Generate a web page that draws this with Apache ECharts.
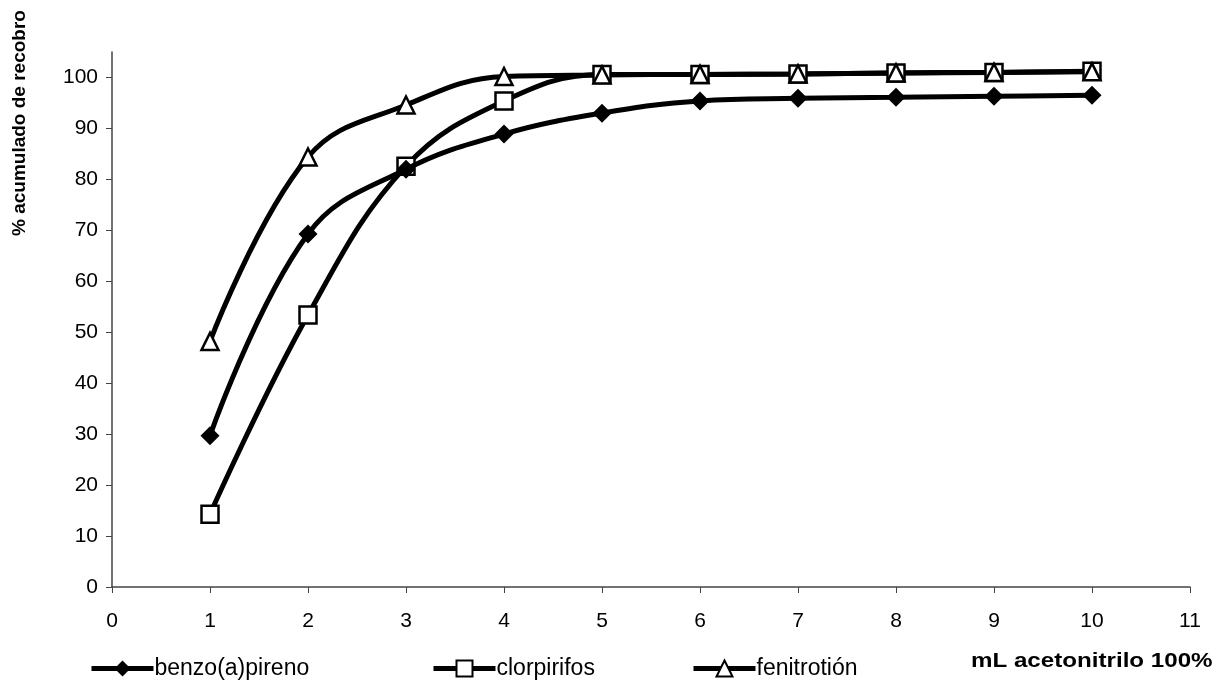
<!DOCTYPE html>
<html>
<head>
<meta charset="utf-8">
<script src="https://cdn.jsdelivr.net/npm/echarts@6/dist/echarts.min.js"></script>
<style>
  html, body { margin: 0; padding: 0; background: #fff; }
  #chart { width: 1223px; height: 694px; }
</style>
</head>
<body>
<div id="chart"></div>
<script>
// Volumen de acetonitrilo (mL)
const volumes = [1, 2, 3, 4, 5, 6, 7, 8, 9, 10];
// % acumulado de recobro por compuesto
const benzoApireno = [29.7, 69.3, 82.0, 88.9, 93.0, 95.4, 95.9, 96.1, 96.3, 96.5];
const clorpirifos = [14.3, 53.4, 82.6, 95.4, 100.6, 100.6, 100.7, 100.9, 101.0, 101.2];
const fenitrotion = [48.2, 84.4, 94.6, 100.2, 100.5, 100.6, 100.7, 100.9, 101.0, 101.1];
const yTicks = [0, 10, 20, 30, 40, 50, 60, 70, 80, 90, 100];
const xTicks = [0, 1, 2, 3, 4, 5, 6, 7, 8, 9, 10, 11];

const FONT = '"Liberation Sans", Arial, sans-serif';

function pairs(ys) {
  return volumes.map((x, i) => [x, ys[i]]);
}

function lineSeries(name, ys, symbol, filled) {
  return {
    name: name,
    type: 'line',
    data: pairs(ys),
    smooth: 0.4,
    symbol: symbol,
    symbolSize: symbol === 'diamond' ? 19 : 17,
    showSymbol: true,
    lineStyle: { color: '#000', width: 5 },
    itemStyle: {
      color: filled ? '#000' : '#fff',
      borderColor: '#000',
      borderWidth: filled ? 0 : 2.5
    },
    emphasis: { disabled: true },
    z: filled ? 3 : 2
  };
}

function legendAt(left, name) {
  return {
    data: [name],
    left: left,
    top: 652,
    itemWidth: 62,
    itemHeight: 20,
    itemGap: 0,
    selectedMode: false,
    lineStyle: { width: 5, color: '#000' },
    textStyle: { fontFamily: FONT, fontSize: 23, color: '#000', padding: [0, 0, 0, -4] }
  };
}

const chart = echarts.init(document.getElementById('chart'), null, { renderer: 'canvas' });

chart.setOption({
  backgroundColor: '#fff',
  animation: false,
  grid: { left: 112, right: 33, top: 52, bottom: 107, containLabel: false },
  xAxis: {
    type: 'value',
    min: 0,
    max: 11,
    interval: 1,
    axisLine: { show: true, lineStyle: { color: '#444', width: 1.5 } },
    axisTick: { show: true, length: 6, lineStyle: { color: '#444', width: 1 }, customValues: xTicks },
    axisLabel: { fontFamily: FONT, fontSize: 21, color: '#000', margin: 24, customValues: xTicks },
    splitLine: { show: false }
  },
  yAxis: {
    type: 'value',
    min: 0,
    max: 105,
    interval: 10,
    axisLine: { show: true, lineStyle: { color: '#444', width: 1.5 } },
    axisTick: { show: true, length: 6, lineStyle: { color: '#444', width: 1 }, customValues: yTicks },
    axisLabel: { fontFamily: FONT, fontSize: 21, color: '#000', margin: 14, customValues: yTicks },
    splitLine: { show: false }
  },
  legend: [
    legendAt(84, 'benzo(a)pireno'),
    legendAt(426, 'clorpirifos'),
    legendAt(686, 'fenitrotión')
  ],
  graphic: [
    {
      type: 'text',
      x: 10,
      y: 236,
      rotation: Math.PI / 2,
      style: {
        text: '% acumulado de recobro',
        font: 'bold 19px ' + FONT,
        fill: '#000',
        align: 'left',
        verticalAlign: 'top'
      }
    },
    {
      type: 'text',
      x: 971,
      y: 651,
      scaleX: 1.15,
      style: {
        text: 'mL acetonitrilo 100%',
        font: 'bold 21px ' + FONT,
        fill: '#000'
      }
    }
  ],
  series: [
    lineSeries('benzo(a)pireno', benzoApireno, 'diamond', true),
    lineSeries('clorpirifos', clorpirifos, 'rect', false),
    lineSeries('fenitrotión', fenitrotion, 'triangle', false)
  ]
});
</script>
</body>
</html>
